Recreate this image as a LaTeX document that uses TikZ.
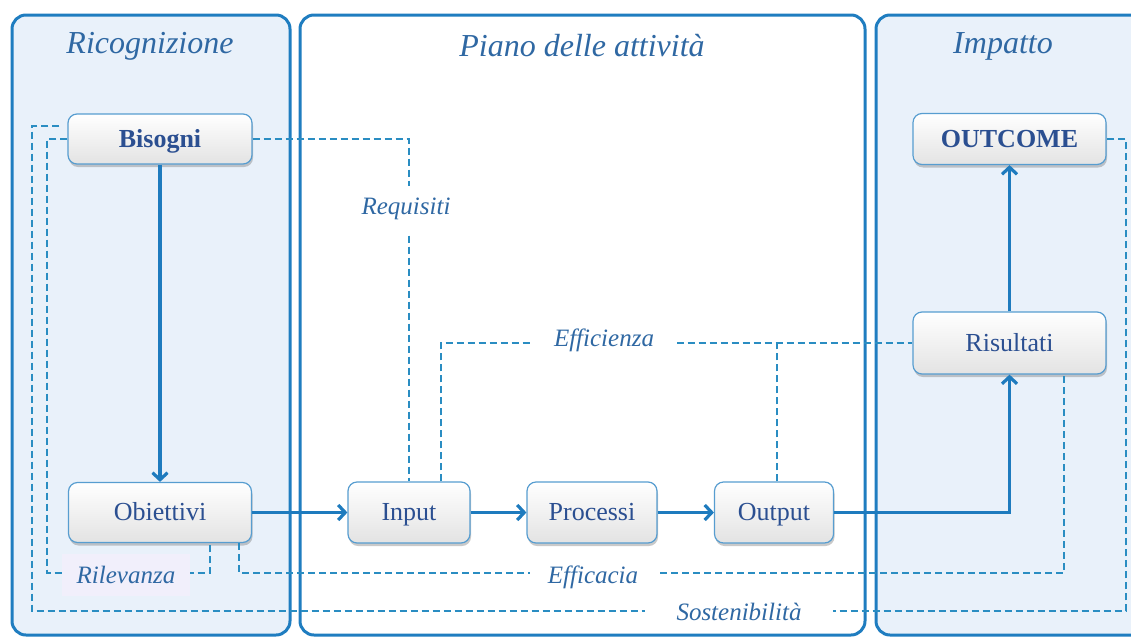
\documentclass[tikz,border=0pt]{standalone}
\usepackage{fontspec}
\setmainfont{Liberation Serif}
\usetikzlibrary{positioning}
\usetikzlibrary{math}
\usetikzlibrary{shadows}
\usetikzlibrary{arrows.meta}
\definecolor{panelblue}{HTML}{1F7DC0}
\definecolor{panelfill}{HTML}{E9F1FA}
\definecolor{flowblue}{HTML}{1E7BBE}
\definecolor{dashblue}{HTML}{2A8DC2}
\definecolor{textblue}{HTML}{2B4F91}
\definecolor{titleblue}{HTML}{2F68A3}
\definecolor{ribfill}{HTML}{F1EFFB}
\tikzset{
	panel/.style={draw=panelblue,line width=3pt,rounded corners=14pt},
	stage/.style={draw=panelblue!75,line width=1.2pt,rounded corners=9pt,top color=white,bottom color=black!11,
		drop shadow={shadow xshift=1pt,shadow yshift=-3pt,opacity=0.35,fill=black!60},
		text=textblue,font=\fontsize{26}{30}\selectfont,text height=19pt,text depth=3pt,inner sep=0pt},
	flow/.style={draw=flowblue,line width=3.2pt,-{Straight Barb[length=7pt,width=15pt]}},
	dashlink/.style={draw=dashblue,line width=2pt,dash pattern=on 7pt off 4pt},
	lbl/.style={font=\fontsize{25}{30}\selectfont\itshape,text=titleblue,fill=white,inner sep=0pt},
	ttl/.style={font=\fontsize{32}{38}\selectfont\itshape,text=titleblue}
}
\begin{document}
\begin{tikzpicture}[x=1pt,y=-1pt]
	\tikzmath{\xl=160; \xm=409; \xp=592; \xo=774; \xr=1009.5;
	\yt=139; \yr=343; \yb=512.5; \yril=573; \ysos=611;
	}
	\useasboundingbox (0,0) rectangle (1131,637);
	\draw[panel,fill=panelfill] (12,15) rectangle (290,635);
	\draw[panel,fill=white] (300,15) rectangle (865,635);
	\draw[panel,fill=panelfill] (876,15) rectangle (1150,635);
	\node[ttl] (tric) at (150,46) {Ricognizione};
	\node[ttl] (tpiano) at (582,46) {Piano delle attività};
	\node[ttl] (timp) at (1003,46) {Impatto};
	\node[stage,minimum width=184pt,minimum height=50pt,font=\fontsize{26}{30}\selectfont\bfseries] (bisogni) at (\xl,\yt) {Bisogni};
	\node[stage,minimum width=183pt,minimum height=60pt] (obiettivi) at (\xl,\yb) {Obiettivi};
	\node[stage,minimum width=122pt,minimum height=61pt] (input) at (\xm,\yb) {Input};
	\node[stage,minimum width=130pt,minimum height=61pt] (processi) at (\xp,\yb) {Processi};
	\node[stage,minimum width=119pt,minimum height=61pt] (output) at (\xo,\yb) {Output};
	\node[stage,minimum width=193pt,minimum height=62pt] (risultati) at (\xr,\yr) {Risultati};
	\node[stage,minimum width=193pt,minimum height=51pt,font=\fontsize{26}{30}\selectfont\bfseries] (outcome) at (\xr,\yt) {OUTCOME};
	\coordinate (ril) at (47,\yril);
	\coordinate (sosl) at (32,\ysos);
	\coordinate (sosr) at (1126,\ysos);
	\coordinate (effr) at (1064,\yril);
	\draw[dashlink] (bisogni.east) -| (input.north);
	\draw[dashlink] ([xshift=32pt]input.north) |- (risultati.west);
	\draw[dashlink] ([xshift=3pt]output.north) -- ([xshift=3pt]output.north |- risultati.west);
	\draw[dashlink] (bisogni.west) -| (ril) -| ([xshift=50pt]obiettivi.south);
	\draw[dashlink] ([xshift=79pt]obiettivi.south) |- (effr) -- (effr |- risultati.south);
	\draw[dashlink] ([xshift=-8pt,yshift=13pt]bisogni.west) -| (sosl) -- (sosr) |- (outcome.east);
	\node[lbl,minimum width=60pt,minimum height=46pt] (requisiti) at (406,209) {Requisiti};
	\node[lbl,minimum width=145pt,minimum height=30pt] (efficienza) at (604,340) {Efficienza};
	\node[lbl,minimum width=128pt,minimum height=42pt,fill=ribfill] (rilevanza) at (126,575) {Rilevanza};
	\node[lbl,minimum width=127pt,minimum height=30pt] (efficacia) at (593,577) {Efficacia};
	\node[lbl,minimum width=188pt,minimum height=30pt] (sostenibilita) at (739,612) {Sostenibilità};
	\draw[flow] (bisogni) -- (obiettivi);
	\draw[flow] (obiettivi) -- (input);
	\draw[flow] (input) -- (processi);
	\draw[flow] (processi) -- (output);
	\draw[flow] (output.east) -| (risultati.south);
	\draw[flow] (risultati) -- (outcome);
\end{tikzpicture}
\end{document}
